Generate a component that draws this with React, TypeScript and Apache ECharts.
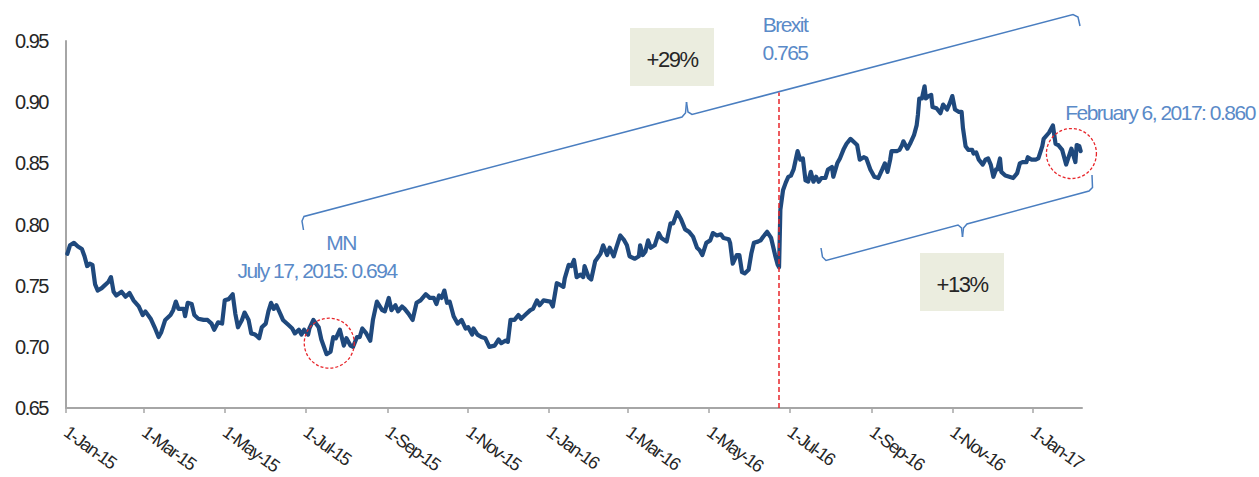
import React, { useEffect, useRef } from "react";
import * as echarts from "echarts";

// Days counted from 1-Jan-15 (trading days) and the exchange rate on each
const tradingDays = [
  1, 3, 6, 9, 12, 14, 16, 18, 20, 22, 24, 27, 29, 32, 34, 36, 38, 42, 45, 48,
  51, 55, 58, 60, 64, 67, 70, 72, 75, 79, 81, 83, 85, 89, 90, 92, 95, 97, 100, 104,
  107, 110, 112, 115, 118, 120, 123, 126, 128, 130, 133, 135, 138, 140, 143, 146, 148, 151, 153, 155,
  157, 159, 162, 164, 168, 171, 173, 176, 178, 180, 183, 184, 187, 191, 193, 197, 200, 202, 204, 207,
  210, 212, 215, 217, 220, 222, 224, 227, 230, 232, 235, 239, 241, 244, 246, 249, 251, 254, 256, 259,
  262, 265, 268, 272, 275, 278, 280, 282, 284, 286, 288, 290, 293, 296, 299, 302, 304, 307, 308, 311,
  314, 317, 320, 324, 327, 329, 332, 334, 336, 339, 342, 344, 348, 351, 353, 356, 358, 361, 366, 368,
  371, 373, 376, 377, 380, 382, 384, 386, 389, 391, 392, 395, 397, 400, 404, 406, 409, 411, 414, 416,
  419, 422, 424, 426, 430, 433, 434, 436, 438, 440, 442, 445, 448, 450, 454, 457, 459, 462, 465, 468,
  471, 474, 477, 479, 481, 484, 487, 489, 492, 495, 497, 501, 502, 504, 507, 509, 511, 513, 516, 518,
  520, 523, 525, 527, 530, 533, 536, 538, 539, 540, 542, 544, 546, 548, 550, 552, 553, 555, 557, 559,
  561, 563, 565, 567, 569, 571, 574, 576, 579, 580, 583, 585, 588, 590, 593, 596, 598, 600, 603, 605,
  608, 611, 614, 617, 619, 621, 623, 624, 628, 630, 632, 633, 636, 638, 641, 643, 644, 645, 647, 649,
  650, 652, 654, 655, 658, 661, 663, 666, 668, 670, 672, 675, 677, 678, 680, 682, 685, 686, 688, 690,
  693, 695, 697, 699, 701, 703, 704, 706, 707, 710, 713, 716, 719, 721, 723, 726, 727, 730, 733, 735,
  738, 739, 743, 746, 748, 750, 753, 756, 760, 763, 764, 766, 767,
];

const eurGbp = [
  0.776, 0.783, 0.785, 0.782, 0.780, 0.774, 0.766, 0.768, 0.767, 0.751, 0.746, 0.748, 0.750, 0.753, 0.757, 0.745, 0.742, 0.745, 0.741, 0.744,
  0.738, 0.733, 0.726, 0.729, 0.723, 0.716, 0.708, 0.712, 0.722, 0.726, 0.730, 0.737, 0.731, 0.731, 0.725, 0.736, 0.735, 0.726, 0.723, 0.722,
  0.722, 0.719, 0.714, 0.720, 0.719, 0.738, 0.739, 0.743, 0.727, 0.716, 0.722, 0.728, 0.722, 0.711, 0.710, 0.707, 0.716, 0.719, 0.729, 0.736,
  0.731, 0.734, 0.727, 0.722, 0.718, 0.715, 0.711, 0.714, 0.710, 0.714, 0.710, 0.715, 0.722, 0.716, 0.706, 0.694, 0.696, 0.708, 0.707, 0.714,
  0.701, 0.707, 0.701, 0.700, 0.708, 0.708, 0.715, 0.711, 0.705, 0.722, 0.737, 0.730, 0.729, 0.740, 0.730, 0.734, 0.729, 0.733, 0.731, 0.727,
  0.722, 0.736, 0.738, 0.743, 0.740, 0.740, 0.735, 0.742, 0.740, 0.746, 0.736, 0.737, 0.725, 0.719, 0.722, 0.715, 0.716, 0.710, 0.715, 0.710,
  0.708, 0.707, 0.700, 0.701, 0.706, 0.703, 0.705, 0.704, 0.722, 0.722, 0.726, 0.723, 0.727, 0.730, 0.731, 0.738, 0.734, 0.738, 0.737, 0.733,
  0.752, 0.751, 0.749, 0.756, 0.767, 0.766, 0.771, 0.757, 0.759, 0.757, 0.766, 0.757, 0.755, 0.770, 0.776, 0.783, 0.775, 0.781, 0.774, 0.781,
  0.791, 0.787, 0.783, 0.774, 0.772, 0.774, 0.783, 0.775, 0.778, 0.787, 0.781, 0.783, 0.793, 0.789, 0.786, 0.801, 0.801, 0.810, 0.804, 0.796,
  0.794, 0.790, 0.781, 0.779, 0.775, 0.785, 0.787, 0.793, 0.791, 0.792, 0.789, 0.788, 0.785, 0.768, 0.775, 0.775, 0.761, 0.760, 0.763, 0.776,
  0.785, 0.786, 0.787, 0.790, 0.794, 0.789, 0.775, 0.767, 0.765, 0.812, 0.828, 0.834, 0.839, 0.840, 0.845, 0.855, 0.860, 0.853, 0.854, 0.836,
  0.835, 0.843, 0.835, 0.839, 0.835, 0.838, 0.838, 0.845, 0.847, 0.839, 0.850, 0.854, 0.862, 0.866, 0.870, 0.867, 0.865, 0.853, 0.855, 0.854,
  0.845, 0.839, 0.838, 0.845, 0.850, 0.843, 0.853, 0.860, 0.860, 0.861, 0.865, 0.868, 0.862, 0.866, 0.873, 0.881, 0.890, 0.903, 0.903, 0.913,
  0.903, 0.905, 0.906, 0.896, 0.895, 0.891, 0.898, 0.894, 0.899, 0.905, 0.894, 0.892, 0.892, 0.879, 0.864, 0.861, 0.861, 0.858, 0.859, 0.853,
  0.849, 0.853, 0.854, 0.849, 0.839, 0.845, 0.845, 0.854, 0.843, 0.840, 0.839, 0.838, 0.842, 0.850, 0.851, 0.851, 0.855, 0.853, 0.853, 0.854,
  0.864, 0.870, 0.875, 0.881, 0.866, 0.865, 0.861, 0.849, 0.862, 0.851, 0.865, 0.864, 0.860,
];

const tickDays = [0, 59, 120, 181, 243, 304, 365, 425, 486, 547, 609, 670, 731];
const tickLabels = [
  "1-Jan-15", "1-Mar-15", "1-May-15", "1-Jul-15", "1-Sep-15", "1-Nov-15",
  "1-Jan-16", "1-Mar-16", "1-May-16", "1-Jul-16", "1-Sep-16", "1-Nov-16", "1-Jan-17",
];
const axisEndDay = 768;

const brexitDay = 539;
const brexitRate = 0.765;
const lowRate = 0.694;
const lastRate = 0.86;
const circleCenters = [
  [199, 0.703],
  [760, 0.858],
];

const FONT = "'Liberation Sans', Arial, sans-serif";
const BLUE_TEXT = "#5A8AC8";
const BRACE = "#4A7EC0";
const RED = "#E8262B";
const BOX = "#EBEDDF";

function txt(x: number, y: number, text: string, color: string, size = 21) {
  return {
    type: "text",
    x,
    y,
    silent: true,
    style: {
      text,
      fill: color,
      fontSize: size,
      fontFamily: FONT,
      align: "center",
      verticalAlign: "middle",
      textAlign: "center",
      textVerticalAlign: "middle",
    },
  };
}

function brace(points: number[][]) {
  return {
    type: "polyline",
    silent: true,
    shape: { points },
    style: { stroke: BRACE, lineWidth: 1.5, fill: null },
  };
}

export default function App() {
  const ref = useRef<HTMLDivElement>(null);

  useEffect(() => {
    if (!ref.current) return;
    const chart = echarts.init(ref.current, undefined, { renderer: "svg" });
    const data = tradingDays.map((d, i) => [d, eurGbp[i]]);

    chart.setOption({
      animation: false,
      backgroundColor: "#ffffff",
      grid: {
        left: 66,
        right: 177,
        top: 41,
        bottom: 69,
        containLabel: false,
        outerBoundsMode: "none",
      },
      xAxis: {
        type: "value",
        min: 0,
        max: axisEndDay,
        splitLine: { show: false },
        axisLine: { show: true, lineStyle: { color: "#A6A6A6", width: 2 } },
        axisTick: {
          show: true,
          customValues: tickDays,
          length: 5,
          lineStyle: { color: "#A6A6A6", width: 1.5 },
        },
        axisLabel: {
          customValues: tickDays,
          formatter: (v: number) => {
            const i = tickDays.indexOf(Math.round(v));
            return i >= 0 ? tickLabels[i] : "";
          },
          rotate: -36,
          margin: 22,
          fontSize: 18,
          fontFamily: FONT,
          color: "#262626",
        },
      },
      yAxis: {
        type: "value",
        min: 0.65,
        max: 0.95,
        interval: 0.05,
        splitLine: { show: false },
        axisLine: { show: true, lineStyle: { color: "#A6A6A6", width: 2 } },
        axisTick: { show: false },
        axisLabel: {
          formatter: (v: number) => v.toFixed(2),
          margin: 18,
          fontSize: 20,
          fontFamily: FONT,
          color: "#262626",
        },
      },
      series: [
        {
          type: "line",
          data,
          symbol: "none",
          lineStyle: { color: "#1F497D", width: 4.2, join: "round", cap: "round" },
          z: 3,
          markLine: {
            silent: true,
            symbol: ["none", "none"],
            label: { show: false },
            lineStyle: { color: RED, type: [5, 3], width: 1.5 },
            data: [[{ coord: [brexitDay, 0.65] }, { coord: [brexitDay, 0.908] }]],
          },
          markPoint: {
            silent: true,
            symbol: "circle",
            symbolSize: 50,
            label: { show: false },
            itemStyle: {
              color: "rgba(0,0,0,0)",
              borderColor: RED,
              borderWidth: 1.3,
              borderType: [3, 2],
            },
            data: circleCenters.map((c) => ({ coord: c })),
          },
        },
      ],
      graphic: [
        { type: "rect", silent: true, shape: { x: 630, y: 28, width: 84, height: 58 }, style: { fill: BOX } },
        { type: "rect", silent: true, shape: { x: 920, y: 253, width: 84, height: 58 }, style: { fill: BOX } },
        txt(672, 59, "+29%", "#262626", 22),
        txt(962, 284, "+13%", "#262626", 22),
        txt(785, 24, "Brexit", BLUE_TEXT),
        txt(785, 52, brexitRate.toFixed(3), BLUE_TEXT),
        txt(341, 242, "MN", BLUE_TEXT),
        txt(317, 270, "July 17, 2015: " + lowRate.toFixed(3), BLUE_TEXT),
        txt(1160, 112, "February 6, 2017: " + lastRate.toFixed(3), BLUE_TEXT),
        brace([[303.5, 230], [302, 221], [304, 216.5], [682, 117], [685.5, 113], [686.5, 102]]),
        brace([[686.5, 102], [688, 112], [692, 114.5], [1073, 14.5], [1078, 17], [1080, 26]]),
        brace([[821, 248], [822.5, 257], [826, 260.5], [958, 225], [961.5, 228], [962.5, 237]]),
        brace([[962.5, 237], [963.5, 228], [967, 224], [1089, 191], [1092.5, 187.5], [1092, 175]]),
      ],
    });

    return () => chart.dispose();
  }, []);

  return (
    <>
      <style>{`.fxchart text { letter-spacing: -1.5px; }`}</style>
      <div
        ref={ref}
        className="fxchart"
        style={{ position: "absolute", left: 0, top: 0, width: 1259, height: 477, background: "#fff" }}
      />
    </>
  );
}
